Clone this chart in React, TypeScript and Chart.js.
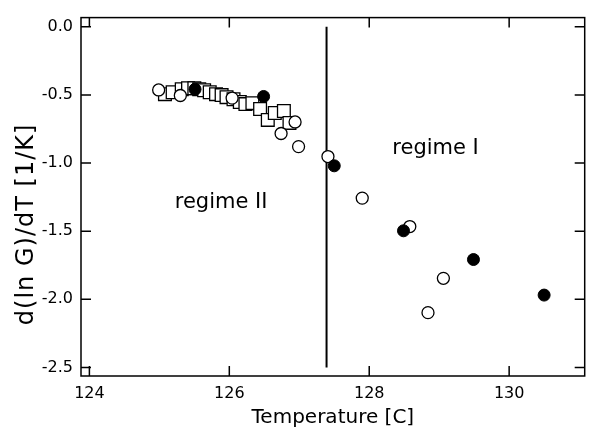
import React, { useEffect, useRef } from 'react';
import { Chart, registerables } from 'chart.js';

Chart.register(...registerables);

// ---- data ----
const squareT = [125.08, 125.19, 125.32, 125.41, 125.5, 125.57, 125.64, 125.72, 125.81, 125.89, 125.96, 126.06, 126.15, 126.23, 126.33, 126.44, 126.55, 126.65, 126.78, 126.86];
const squareY = [-0.494, -0.48, -0.458, -0.451, -0.451, -0.458, -0.465, -0.48, -0.494, -0.501, -0.516, -0.531, -0.552, -0.567, -0.56, -0.603, -0.683, -0.632, -0.618, -0.705];

const openT = [124.99, 125.3, 126.04, 126.94, 126.74, 126.99, 127.41, 127.9, 128.58, 129.06, 128.84];
const openY = [-0.463, -0.504, -0.523, -0.698, -0.783, -0.879, -0.952, -1.257, -1.466, -1.846, -2.098];

const filledT = [125.51, 126.49, 127.5, 128.49, 129.49, 130.5];
const filledY = [-0.458, -0.511, -1.02, -1.497, -1.708, -1.969];

const boundaryT = [127.39, 127.39];
const boundaryY = [0.0, -2.5];

const xTicks = [124, 126, 128, 130];
const yTicks = [0, -0.5, -1, -1.5, -2, -2.5];

const regimeLabels = ['regime II', 'regime I'];
const regimeT = [125.22, 128.33];
const regimeY = [-1.33, -0.93];

const xTitle = 'Temperature [C]';
const yTitle = 'd(ln G)/dT [1/K]';

const FONT = "'DejaVu Sans', sans-serif";

const toPoints = (xs: number[], ys: number[]) => xs.map((x, i) => ({ x, y: ys[i] }));

const framePlugin = {
  id: 'frame',
  beforeDatasetsDraw(chart: any) {
    const { ctx, chartArea: a, scales } = chart;
    const xs = scales.x;
    const ys = scales.y;
    ctx.save();
    ctx.strokeStyle = '#000';
    ctx.lineWidth = 1.5;
    ctx.strokeRect(a.left, a.top, a.right - a.left, a.bottom - a.top);
    const tl = 10;
    ctx.beginPath();
    xTicks.forEach((v) => {
      const px = xs.getPixelForValue(v);
      ctx.moveTo(px, a.bottom);
      ctx.lineTo(px, a.bottom - tl);
      ctx.moveTo(px, a.top);
      ctx.lineTo(px, a.top + tl);
    });
    yTicks.forEach((v) => {
      const py = ys.getPixelForValue(v);
      ctx.moveTo(a.left, py);
      ctx.lineTo(a.left + tl, py);
      ctx.moveTo(a.right, py);
      ctx.lineTo(a.right - tl, py);
    });
    ctx.stroke();
    ctx.restore();
  },
  afterDatasetsDraw(chart: any) {
    const { ctx, chartArea: a, scales } = chart;
    ctx.save();
    ctx.fillStyle = '#000';
    ctx.font = `21px ${FONT}`;
    ctx.textAlign = 'left';
    ctx.textBaseline = 'alphabetic';
    regimeLabels.forEach((t, i) => {
      ctx.fillText(t, scales.x.getPixelForValue(regimeT[i]), scales.y.getPixelForValue(regimeY[i]));
    });
    // y axis title
    const cy = a.top + (a.bottom - a.top) * 0.577;
    ctx.translate(27, cy);
    ctx.rotate(-Math.PI / 2);
    ctx.font = `24px ${FONT}`;
    (ctx as any).letterSpacing = '1px';
    ctx.textAlign = 'center';
    ctx.textBaseline = 'middle';
    ctx.fillText(yTitle, 0, 0);
    ctx.restore();
  },
};

export default function App() {
  const ref = useRef<HTMLCanvasElement>(null);
  useEffect(() => {
    document.body.style.margin = '0';
    const canvas = ref.current!;
    const chart = new Chart(canvas, {
      type: 'scatter',
      data: {
        datasets: [
          {
            label: 'filled',
            data: toPoints(filledT, filledY),
            pointStyle: 'circle',
            pointRadius: 6,
            backgroundColor: '#000',
            borderColor: '#000',
            borderWidth: 1,
            order: 0,
          },
          {
            label: 'open',
            data: toPoints(openT, openY),
            pointStyle: 'circle',
            pointRadius: 6,
            backgroundColor: '#fff',
            borderColor: '#000',
            borderWidth: 1.3,
            order: 1,
          },
          {
            label: 'squares',
            data: toPoints(squareT, squareY),
            pointStyle: 'rect',
            pointRadius: 9,
            backgroundColor: '#fff',
            borderColor: '#000',
            borderWidth: 1.3,
            order: 2,
          },
          {
            label: 'boundary',
            data: toPoints(boundaryT, boundaryY),
            showLine: true,
            pointRadius: 0,
            borderColor: '#000',
            borderWidth: 2,
            order: 3,
          },
        ],
      },
      options: {
        responsive: false,
        animation: false,
        devicePixelRatio: 1,
        events: [],
        layout: { padding: { top: 15, right: 2, left: 0, bottom: 0 } },
        plugins: { legend: { display: false }, tooltip: { enabled: false } },
        scales: {
          x: {
            type: 'linear',
            min: 123.88,
            max: 131.08,
            grid: { display: false, drawTicks: false },
            border: { display: false },
            afterBuildTicks: (s: any) => {
              s.ticks = xTicks.map((v) => ({ value: v }));
            },
            afterFit: (s: any) => {
              s.height = 57;
            },
            ticks: {
              padding: 8,
              color: '#000',
              font: { family: FONT, size: 16 },
              maxRotation: 0,
              callback: (v: any) => String(v),
            },
            title: {
              display: true,
              text: xTitle,
              color: '#000',
              font: { family: FONT, size: 20 },
              padding: { top: 0, bottom: 3 },
            },
          },
          y: {
            type: 'linear',
            min: -2.563,
            max: 0.068,
            grid: { display: false, drawTicks: false },
            border: { display: false },
            afterBuildTicks: (s: any) => {
              s.ticks = yTicks.map((v) => ({ value: v }));
            },
            afterFit: (s: any) => {
              s.width = 81;
            },
            ticks: {
              padding: 8,
              color: '#000',
              font: { family: FONT, size: 16 },
              callback: (v: any) => Number(v).toFixed(1),
            },
          },
        },
      },
      plugins: [framePlugin],
    });
    return () => chart.destroy();
  }, []);
  return (
    <div style={{ width: 595, height: 433 }}>
      <canvas ref={ref} width={595} height={433} style={{ display: 'block' }} />
    </div>
  );
}
